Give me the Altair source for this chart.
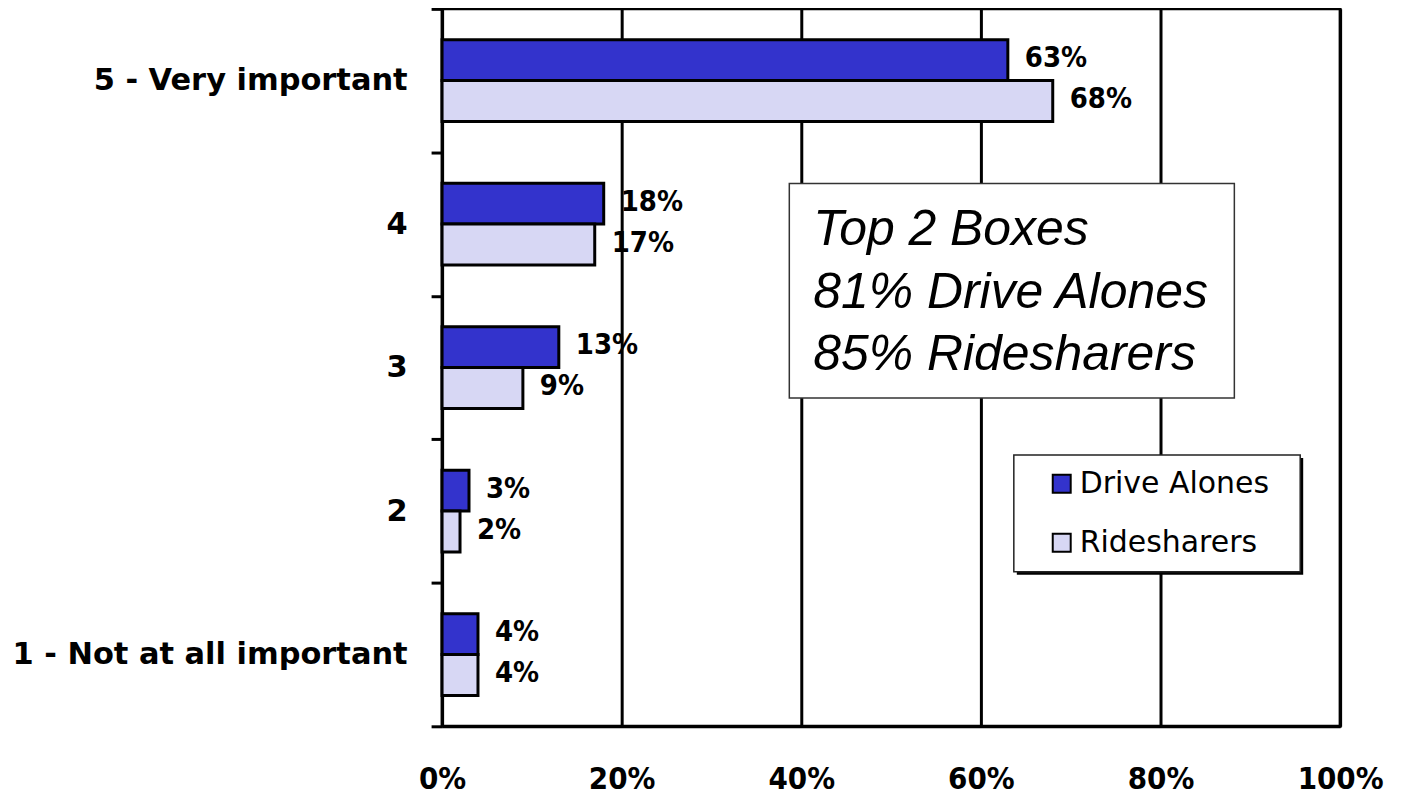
import altair as alt
import pandas as pd

categories = ["5 - Very important", "4", "3", "2", "1 - Not at all important"]
drive_alones = [63, 18, 13, 3, 4]
ridesharers = [68, 17, 9, 2, 4]
series_names = ["Drive Alones", "Ridesharers"]
series_colors = ["#3333CC", "#D7D7F4"]
x_ticks = [0, 20, 40, 60, 80, 100]
note_lines = ["Top 2 Boxes", "81% Drive Alones", "85% Ridesharers"]

rows = []
for c, d, r in zip(categories, drive_alones, ridesharers):
    rows.append({"cat": c, "series": series_names[0], "value": d})
    rows.append({"cat": c, "series": series_names[1], "value": r})
df = pd.DataFrame(rows)

W, H = 900, 719
BOLD = "DejaVu Sans"
COND = "DejaVu Sans Condensed, DejaVu Sans"

x = alt.X(
    "value:Q",
    scale=alt.Scale(domain=[0, 100], nice=False),
    axis=alt.Axis(
        values=x_ticks, labelExpr="datum.value + '%'", grid=True, gridColor="black",
        gridWidth=3, gridOpacity=1, ticks=False, domainColor="black", domainWidth=3,
        labelFont=COND, labelFontWeight="bold", labelFontSize=31, labelColor="black",
        labelPadding=38, title=None, labelFlush=False,
    ),
)
y = alt.Y(
    "cat:N",
    sort=categories,
    scale=alt.Scale(paddingInner=0, paddingOuter=0),
    axis=alt.Axis(
        title=None, tickBand="extent", tickSize=11, tickWidth=3, tickColor="black",
        domainColor="black", domainWidth=3, labelFont=BOLD, labelFontWeight="bold",
        labelFontSize=30.5, labelColor="black", labelPadding=24, labelLimit=0,
    ),
)
yoff = alt.YOffset("series:N", sort=series_names,
                   scale=alt.Scale(paddingInner=0, paddingOuter=0.754))

base = alt.Chart(df)

bars = base.mark_bar(stroke="black", strokeWidth=3).encode(
    x=x, y=y, yOffset=yoff,
    color=alt.Color(
        "series:N", sort=series_names,
        scale=alt.Scale(domain=series_names, range=series_colors),
        legend=alt.Legend(
            title=None, orient="none", legendX=606, legendY=461, padding=0,
            symbolType="square", symbolSize=324, symbolStrokeColor="black",
            symbolStrokeWidth=2, symbolOpacity=1, labelFont="DejaVu Sans", labelFontSize=30,
            labelColor="black", labelOffset=3, rowPadding=29, labelLimit=0,
        ),
    ),
)

labels = base.mark_text(
    align="left", baseline="middle", dx=17, dy=-2, font=COND, fontWeight="bold",
    fontSize=29, color="black",
).encode(x=x, y=y, yOffset=yoff, text=alt.Text("label:N")).transform_calculate(
    label="datum.value + '%'"
)

one = alt.Data(values=[{}])

note_box = alt.Chart(one).mark_rect(fill="white", stroke="#333333", strokeWidth=1.5).encode(
    x=alt.value(348), x2=alt.value(794), y=alt.value(175), y2=alt.value(390)
)
note_layers = []
for line, base_y in zip(note_lines, [237, 300, 362]):
    note_layers.append(
        alt.Chart(one).mark_text(
            text=line, align="left", baseline="alphabetic", font="Liberation Sans",
            fontStyle="italic", fontSize=50, color="black",
        ).encode(x=alt.value(372), y=alt.value(base_y))
    )

legend_shadow = alt.Chart(one).mark_rect(fill="black").encode(
    x=alt.value(576), x2=alt.value(863), y=alt.value(450), y2=alt.value(567)
)
legend_box = alt.Chart(one).mark_rect(fill="white", stroke="#222222", strokeWidth=1.5).encode(
    x=alt.value(573), x2=alt.value(860), y=alt.value(447), y2=alt.value(564)
)

chart = alt.layer(bars, labels, note_box, *note_layers, legend_shadow, legend_box).properties(
    width=W, height=H,
    autosize=alt.AutoSizeParams(type="none"),
    padding={"left": 435, "top": 0, "right": 55, "bottom": 70},
    background="white",
).configure_view(stroke="black", strokeWidth=3)

chart.save("out.html", embed_options={"renderer": "svg", "actions": False})
